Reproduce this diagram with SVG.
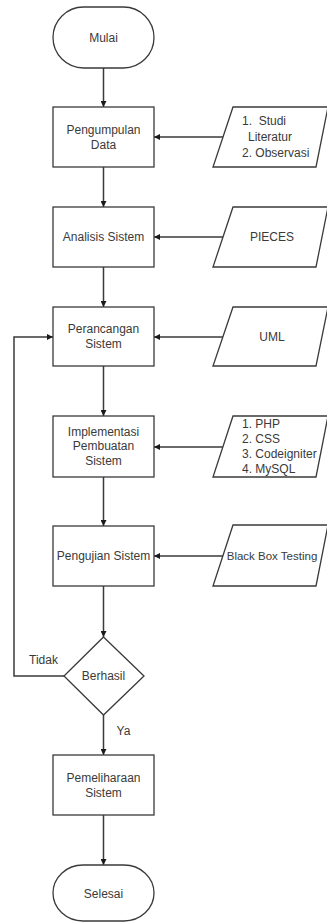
<svg xmlns="http://www.w3.org/2000/svg" width="327" height="922" viewBox="0 0 327 922">
<style>
.s{fill:#fff;stroke:#3a3a3a;stroke-width:1.3}
.c{fill:none;stroke:#3a3a3a;stroke-width:1.5}
text{font-family:"Liberation Sans",Arial,sans-serif;font-size:12px;fill:#3a3a3a;dominant-baseline:central}
.m{text-anchor:middle}
</style>
<defs>
<marker id="ah" viewBox="0 0 10 10" refX="10" refY="5" markerWidth="6" markerHeight="6" markerUnits="userSpaceOnUse" orient="auto">
<path d="M0,0 L10,5 L0,10 Z" fill="#1a1a1a"/>
</marker>
</defs>
<rect width="327" height="922" fill="#fff"/>
<g id="connectors">
<line class="c" x1="103.5" y1="68" x2="103.5" y2="107" marker-end="url(#ah)"/>
<line class="c" x1="103.5" y1="167" x2="103.5" y2="207" marker-end="url(#ah)"/>
<line class="c" x1="103.5" y1="267" x2="103.5" y2="307" marker-end="url(#ah)"/>
<line class="c" x1="103.5" y1="366" x2="103.5" y2="416" marker-end="url(#ah)"/>
<line class="c" x1="103.5" y1="477" x2="103.5" y2="526" marker-end="url(#ah)"/>
<line class="c" x1="103.5" y1="586" x2="103.5" y2="637" marker-end="url(#ah)"/>
<line class="c" x1="103.5" y1="715" x2="103.5" y2="755" marker-end="url(#ah)"/>
<line class="c" x1="103.5" y1="815" x2="103.5" y2="865" marker-end="url(#ah)"/>
<line class="c" x1="223" y1="137" x2="154" y2="137" marker-end="url(#ah)"/>
<line class="c" x1="223" y1="237" x2="154" y2="237" marker-end="url(#ah)"/>
<line class="c" x1="223" y1="337" x2="154" y2="337" marker-end="url(#ah)"/>
<line class="c" x1="223" y1="447" x2="154" y2="447" marker-end="url(#ah)"/>
<line class="c" x1="223" y1="556" x2="154" y2="556" marker-end="url(#ah)"/>
<polyline class="c" points="64,676 14,676 14,337 53,337" marker-end="url(#ah)"/>
<text x="43.5" y="660" class="m">Tidak</text>
<text x="123.5" y="731" class="m">Ya</text>
</g>
<g id="mulai">
<rect class="s" x="53" y="7" width="101" height="61" rx="30.5" ry="30.5"/>
<text x="103.5" y="37.5" class="m">Mulai</text>
</g>
<g id="pengumpulan">
<rect class="s" x="53" y="107" width="101" height="60"/>
<text x="103.5" y="129.5" class="m">Pengumpulan</text>
<text x="103.5" y="145" class="m">Data</text>
</g>
<g id="input-studi">
<polygon class="s" points="233,107 328,107 316,167 213,167"/>
<text x="242" y="121" style="white-space:pre">1.  Studi</text>
<text x="248" y="137">Literatur</text>
<text x="242" y="152.5">2. Observasi</text>
</g>
<g id="analisis">
<rect class="s" x="53" y="207" width="101" height="60"/>
<text x="103.5" y="237" class="m">Analisis Sistem</text>
</g>
<g id="input-pieces">
<polygon class="s" points="233,207 328,207 316,267 213,267"/>
<text x="272" y="237" class="m">PIECES</text>
</g>
<g id="perancangan">
<rect class="s" x="53" y="307" width="101" height="59"/>
<text x="103.5" y="328.5" class="m">Perancangan</text>
<text x="103.5" y="344" class="m">Sistem</text>
</g>
<g id="input-uml">
<polygon class="s" points="233,307 328,307 316,366 213,366"/>
<text x="272" y="337" class="m">UML</text>
</g>
<g id="implementasi">
<rect class="s" x="53" y="416" width="101" height="61"/>
<text x="103.5" y="432" class="m">Implementasi</text>
<text x="103.5" y="446" class="m">Pembuatan</text>
<text x="103.5" y="460.5" class="m">Sistem</text>
</g>
<g id="input-php">
<polygon class="s" points="233,416 328,416 316,477 213,477"/>
<text x="242" y="423.5">1. PHP</text>
<text x="242" y="438.5">2. CSS</text>
<text x="242" y="453.5">3. Codeigniter</text>
<text x="242" y="468.5">4. MySQL</text>
</g>
<g id="pengujian">
<rect class="s" x="53" y="526" width="101" height="60"/>
<text x="103.5" y="555.5" class="m">Pengujian Sistem</text>
</g>
<g id="input-blackbox">
<polygon class="s" points="233,525 328,525 316,586 213,586"/>
<text x="272" y="555.5" class="m" style="font-size:11.5px">Black Box Testing</text>
</g>
<g id="berhasil">
<polygon class="s" points="103.5,637 144,676 103.5,715 64,676"/>
<text x="103.5" y="676" class="m">Berhasil</text>
</g>
<g id="pemeliharaan">
<rect class="s" x="53" y="755" width="101" height="60"/>
<text x="103.5" y="777.5" class="m">Pemeliharaan</text>
<text x="103.5" y="793" class="m">Sistem</text>
</g>
<g id="selesai">
<rect class="s" x="53" y="865" width="101" height="56" rx="30" ry="28"/>
<text x="103.5" y="894" class="m">Selesai</text>
</g>
</svg>
